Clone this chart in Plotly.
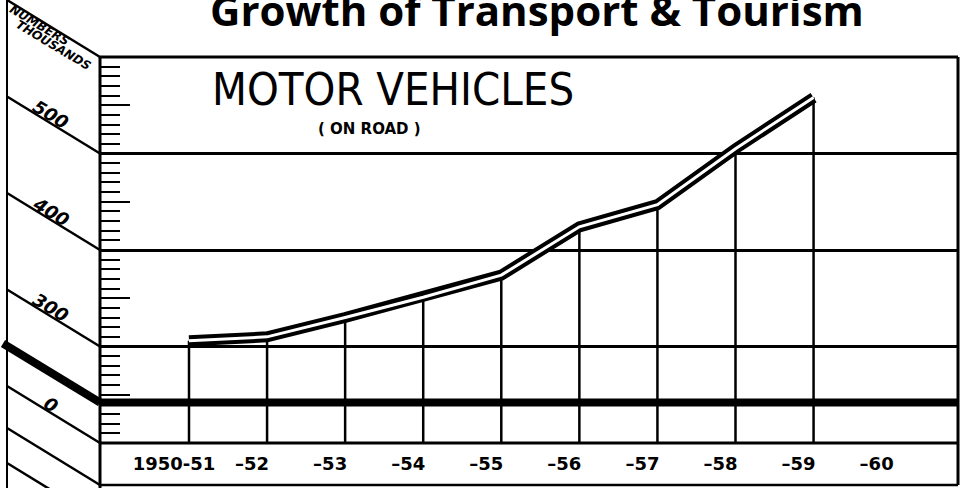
import plotly.graph_objects as go

# ---------------- data ----------------
categories = ["1950-51", "1951-52", "1952-53", "1953-54", "1954-55",
              "1955-56", "1956-57", "1957-58", "1958-59", "1959-60"]
tick_labels = ["1950-51", "–52", "–53", "–54", "–55", "–56", "–57", "–58", "–59", "–60"]
vehicles_thousands = [306, 310, 330, 351, 374, 424, 447, 505, 558]   # 1950-51 .. 1958-59
scale_labels = ["500", "400", "300", "0"]
scale_label_values = [500, 400, 300, 200]   # display level of each label (0 sits below the axis break)
axis_break_value = 242

# ---------------- layout geometry ----------------
W, H = 967, 488
ML, MR, MT, MB = 100, 9, 57, 45
PW, PH = W - ML - MR, H - MT - MB
Y0, Y1 = 200, 600
X0, X1 = -1.14, 9.85


def px_x(p):
    return (p - ML) / PW


def px_y(p):
    return (H - MB - p) / PH


def val_py(v):
    return H - MB - (v - Y0) * PH / (Y1 - Y0)


fig = go.Figure()

# drop lines from each point to the base
dx, dy = [], []
for c, v in zip(categories, vehicles_thousands):
    dx += [c, c, None]
    dy += [v, Y0, None]
fig.add_trace(go.Scatter(x=dx, y=dy, mode="lines",
                         line=dict(color="black", width=2.5),
                         hoverinfo="skip", showlegend=False))

# double-stroke data line
x_data = categories[:len(vehicles_thousands)]
fig.add_trace(go.Scatter(x=x_data, y=vehicles_thousands, mode="lines",
                         line=dict(color="black", width=11),
                         showlegend=False, name="Motor vehicles"))
fig.add_trace(go.Scatter(x=x_data, y=vehicles_thousands, mode="lines",
                         line=dict(color="white", width=3),
                         hoverinfo="skip", showlegend=False))

# invisible trace to carry the long 50-unit ticks on an overlaid axis
fig.add_trace(go.Scatter(x=[categories[0]], y=[Y0], yaxis="y2", mode="markers",
                         marker=dict(opacity=0), hoverinfo="skip", showlegend=False))

shapes = []
blk = "black"
# frame
shapes.append(dict(type="line", xref="paper", yref="paper", x0=0, x1=1, y0=1, y1=1,
                   line=dict(color=blk, width=3)))
shapes.append(dict(type="line", xref="paper", yref="paper", x0=1, x1=1, y0=1, y1=px_y(485),
                   line=dict(color=blk, width=3)))
shapes.append(dict(type="line", xref="paper", yref="paper", x0=0, x1=1, y0=0, y1=0,
                   line=dict(color=blk, width=3)))
shapes.append(dict(type="line", xref="paper", yref="paper", x0=0, x1=1, y0=px_y(485), y1=px_y(485),
                   line=dict(color=blk, width=2.5)))
shapes.append(dict(type="line", xref="paper", yref="paper", x0=0, x1=0, y0=1, y1=px_y(490),
                   line=dict(color=blk, width=3)))
# axis break
shapes.append(dict(type="line", xref="paper", yref="paper", x0=0, x1=1,
                   y0=px_y(val_py(axis_break_value)), y1=px_y(val_py(axis_break_value)),
                   line=dict(color=blk, width=8)))

# left slanted panel
DROP = 57
LX = 7
shapes.append(dict(type="line", xref="paper", yref="paper", x0=px_x(LX), x1=px_x(LX),
                   y0=px_y(0), y1=px_y(490), line=dict(color=blk, width=2)))
ends = [MT] + [val_py(v) for v in [500, 400, 300, 200]] + [485, 520]
for e in ends:
    shapes.append(dict(type="line", xref="paper", yref="paper",
                       x0=px_x(LX), y0=px_y(e - DROP), x1=px_x(ML), y1=px_y(e),
                       line=dict(color=blk, width=2.5)))
eb = val_py(axis_break_value)
shapes.append(dict(type="line", xref="paper", yref="paper",
                   x0=px_x(3), y0=px_y(eb - DROP - 2), x1=px_x(ML), y1=px_y(eb),
                   line=dict(color=blk, width=8)))


def note(text, cx, cy, size, family="DejaVu Sans", angle=0, **kw):
    return dict(text=text, xref="paper", yref="paper", x=px_x(cx), y=px_y(cy),
                xanchor="center", yanchor="middle", showarrow=False, textangle=angle,
                font=dict(family=family, size=size, color=blk, **kw))


annotations = []
for lab, v in zip(scale_labels, scale_label_values):
    annotations.append(note("<b><i>%s</i></b>" % lab, 51, val_py(v) - 39, 18, angle=31))
annotations.append(note("<b><i>NUMBERS</i></b>", 39, 25, 12, angle=31))
annotations.append(note("<b><i>THOUSANDS</i></b>", 53, 45, 12, angle=31))
annotations.append(note("MOTOR VEHICLES", 393, 90, 45,
                        family="Liberation Sans Narrow, DejaVu Sans Condensed, sans-serif"))
annotations.append(note("<b>( ON ROAD )</b>", 369, 129, 15))
annotations.append(note("<b>Growth of Transport & Tourism</b>", 537, 9, 42, family="Open Sans"))

fig.update_layout(
    width=W, height=H,
    margin=dict(l=ML, r=MR, t=MT, b=MB, pad=0, autoexpand=False),
    paper_bgcolor="white", plot_bgcolor="white",
    showlegend=False,
    xaxis=dict(type="category", categoryorder="array", categoryarray=categories,
               range=[X0, X1], showgrid=False, zeroline=False, showline=False,
               automargin=False,
               tickvals=categories, ticktext=tick_labels, ticks="",
               ticklabelshift=-15, ticklabelstandoff=8,
               tickfont=dict(family="DejaVu Sans", size=18, color=blk, weight="bold")),
    yaxis=dict(range=[Y0, Y1], showgrid=True, gridcolor=blk, gridwidth=3,
               dtick=100, tick0=0, zeroline=False, showline=False, automargin=False,
               showticklabels=False, ticks="inside", ticklen=20, tickwidth=2, tickcolor=blk,
               minor=dict(dtick=10, tick0=0, ticks="inside", ticklen=20, tickwidth=2,
                          tickcolor=blk, showgrid=False)),
    yaxis2=dict(range=[Y0, Y1], overlaying="y", side="left", showgrid=False, zeroline=False,
                automargin=False,
                dtick=50, tick0=0, showticklabels=False, ticks="inside", ticklen=30,
                tickwidth=2, tickcolor=blk),
    shapes=shapes,
    annotations=annotations,
)

fig.write_html("out.html", config={"displayModeBar": False},
               post_script="document.body.style.margin='0';")
